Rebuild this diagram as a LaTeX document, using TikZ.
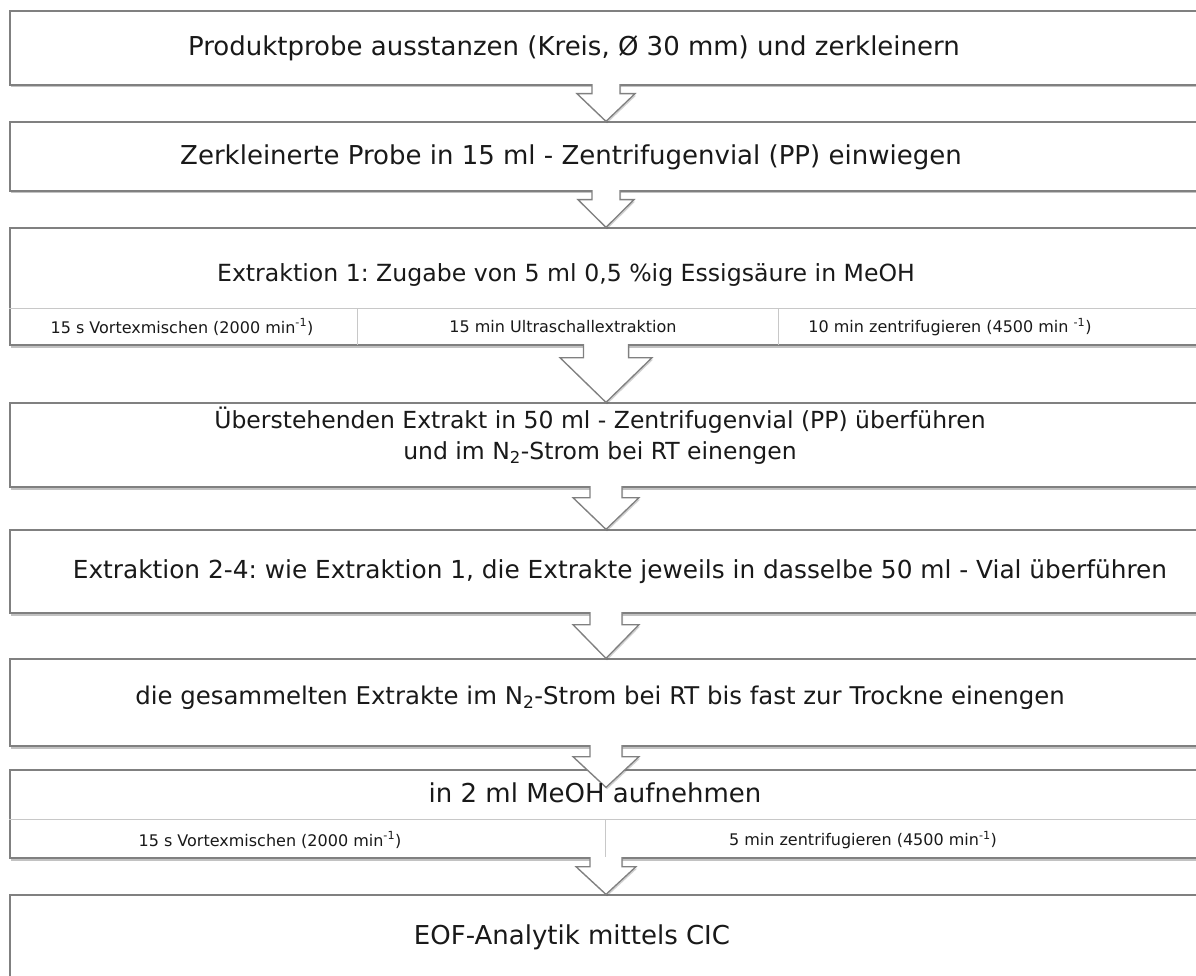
\documentclass[tikz,border=0pt]{standalone}
\usepackage{fontspec}
\setmainfont{DejaVu Sans}
\usetikzlibrary{calc,shadows}
\frenchspacing

\definecolor{boxgray}{RGB}{128,128,128}
\definecolor{cellgray}{RGB}{200,200,200}
\definecolor{textblack}{RGB}{25,25,25}

\tikzset{
	stepbox/.style={draw=boxgray, line width=1.3pt, fill=white, minimum width=1200pt, inner sep=0pt,
		drop shadow={shadow xshift=1pt, shadow yshift=-2.5pt, opacity=0.4, fill=black!60}},
	steptext/.style={text=textblack, font=\fontsize{26}{31}\selectfont},
	smallstep/.style={text=textblack, font=\fontsize{#1}{31}\selectfont},
	subtext/.style={text=textblack, font=\fontsize{16}{19}\selectfont},
	cellline/.style={draw=cellgray, line width=1pt},
	arrowline/.style={draw=boxgray, line width=1.3pt, line join=miter,
		drop shadow={shadow xshift=1pt, shadow yshift=-2pt, opacity=0.3, fill=black!60},
		preaction={fill=white}}
}

% block arrow: from, to, stem half width, head half width, shoulder depth, overshoot
\newcommand{\flowarrow}[6]{%
	\draw[arrowline] let \p1=(#1.south), \p2=(#2.north) in
		(606pt-#3pt,\y1+1.5pt) -- (606pt-#3pt,\y1-#5pt) -- (606pt-#4pt,\y1-#5pt) -- (606pt,\y2-#6pt)
		-- (606pt+#4pt,\y1-#5pt) -- (606pt+#3pt,\y1-#5pt) -- (606pt+#3pt,\y1+1.5pt);
}

\begin{document}
\begin{tikzpicture}[x=1pt,y=-1pt]
	\useasboundingbox (0,0) rectangle (1196,976);
	\clip (0,0) rectangle (1196,976);
	
	% boxes
	\node[stepbox, minimum height=74pt]  (b1) at (610,48)    {};
	\node[stepbox, minimum height=69pt]  (b2) at (610,156.5) {};
	\node[stepbox, minimum height=117pt] (b3) at (610,286.5) {};
	\node[stepbox, minimum height=84pt]  (b4) at (610,445)   {};
	\node[stepbox, minimum height=83pt]  (b5) at (610,571.5) {};
	\node[stepbox, minimum height=87pt]  (b6) at (610,702.5) {};
	\node[stepbox, minimum height=88pt]  (b7) at (610,814)   {};
	\node[stepbox, minimum height=110pt] (b8) at (610,950)   {};
	
	% cells
	\draw[cellline] (b3.west |- 0,308) -- (b3.east |- 0,308);
	\draw[cellline] (357,308) -- (357,345);
	\draw[cellline] (778,308) -- (778,345);
	\draw[cellline] (b7.west |- 0,819) -- (b7.east |- 0,819);
	\draw[cellline] (605,819) -- (605,858);
	
	% arrows
	\flowarrow{b1}{b2}{14}{29}{8}{0}
	\flowarrow{b2}{b3}{14}{28}{8}{0}
	\flowarrow{b3}{b4}{22.5}{46}{12}{0}
	\flowarrow{b4}{b5}{16}{33}{10}{0}
	\flowarrow{b5}{b6}{16}{33}{11}{0}
	\flowarrow{b6}{b7}{16}{33}{10}{18}
	\flowarrow{b7}{b8}{16}{30}{8}{0}
	
	% texts
	\node[steptext] (t1) at (574,48) {Produktprobe ausstanzen (Kreis, Ø 30 mm) und zerkleinern};
	\node[steptext] (t2) at (571,157) {Zerkleinerte Probe in 15 ml - Zentrifugenvial (PP) einwiegen};
	\node[smallstep=23.6] (t3) at (566,275) {Extraktion 1: Zugabe von 5 ml 0,5 \%ig Essigsäure in MeOH};
	\node[subtext] (s31) at (182,327) {15 s Vortexmischen (2000 min\textsuperscript{-1})};
	\node[subtext] (s32) at (563,327) {15 min Ultraschallextraktion};
	\node[subtext] (s33) at (950,327) {10 min zentrifugieren (4500 min \textsuperscript{-1})};
	\node[smallstep=23.5, align=center] (t4) at (600,436) {Überstehenden Extrakt in 50 ml - Zentrifugenvial (PP) überführen\\und im N\textsubscript{2}-Strom bei RT einengen};
	\node[smallstep=24.8] (t5) at (620,572) {Extraktion 2-4: wie Extraktion 1, die Extrakte jeweils in dasselbe 50 ml - Vial überführen};
	\node[smallstep=24.4] (t6) at (600,698) {die gesammelten Extrakte im N\textsubscript{2}-Strom bei RT bis fast zur Trockne einengen};
	\node[steptext] (t7) at (595,793) {in 2 ml MeOH aufnehmen};
	\node[subtext] (s71) at (270,840) {15 s Vortexmischen (2000 min\textsuperscript{-1})};
	\node[subtext] (s72) at (863,840) {5 min zentrifugieren (4500 min\textsuperscript{-1})};
	\node[steptext] (t8) at (572,937) {EOF-Analytik mittels CIC};
\end{tikzpicture}
\end{document}
